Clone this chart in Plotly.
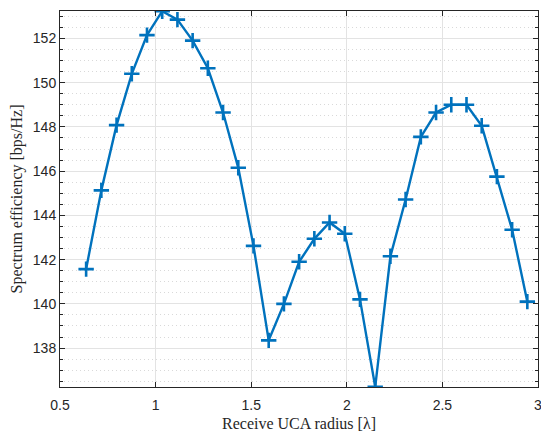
import plotly.graph_objects as go

radius = [0.6366, 0.7162, 0.7958, 0.8754, 0.9549, 1.0345, 1.1141, 1.1937, 1.2732, 1.3528,
          1.4324, 1.5120, 1.5915, 1.6711, 1.7507, 1.8303, 1.9099, 1.9894, 2.0690, 2.1486,
          2.2282, 2.3077, 2.3873, 2.4669, 2.5465, 2.6261, 2.7056, 2.7852, 2.8648, 2.9443]
efficiency = [141.57, 145.13, 148.08, 150.40, 152.15, 153.23, 152.85, 151.90, 150.65, 148.65,
              146.15, 142.62, 138.35, 140.00, 141.90, 142.94, 143.68, 143.17, 140.20, 136.25,
              142.15, 144.72, 147.55, 148.65, 149.00, 149.00, 148.05, 145.75, 143.35, 140.10]

x_ticks = [0.5, 1, 1.5, 2, 2.5, 3]
x_tick_labels = ["0.5", "1", "1.5", "2", "2.5", "3"]
y_ticks = [138, 140, 142, 144, 146, 148, 150, 152]

blue = "#0072BD"
fig = go.Figure(go.Scatter(
    x=radius, y=efficiency, mode="lines+markers",
    line=dict(color=blue, width=2.4),
    marker=dict(symbol="cross-thin", size=11, line=dict(color=blue, width=2.6)),
))

axis_common = dict(
    showline=True, linecolor="#262626", linewidth=1, mirror="ticks",
    ticks="inside", ticklen=5, tickcolor="#262626",
    showgrid=True, gridcolor="#e3e3e3", gridwidth=1,
    zeroline=False, ticklabeloverflow="allow", automargin=False,
    tickfont=dict(family="Liberation Sans, Arial", size=14, color="#262626"),
)

title_font = dict(family="Liberation Serif, Times New Roman", size=16, color="#262626")

fig.update_xaxes(
    **axis_common,
    range=[0.4999, 3.0001], tickvals=x_ticks, ticktext=x_tick_labels,
    ticklabelstandoff=5,
    title=dict(text="Receive UCA radius [λ]", font=title_font, standoff=6),
)
fig.update_yaxes(
    **axis_common,
    range=[min(efficiency) - 0.01, max(efficiency) + 0.01], tickvals=y_ticks,
    minor=dict(dtick=0.5, ticks="inside", ticklen=3, tickcolor="#262626",
               showgrid=True, gridcolor="#d9d9d9", griddash="1px,3px", gridwidth=1),
    title=dict(text="Spectrum efficiency [bps/Hz]", font=title_font, standoff=6),
)

fig.update_layout(
    width=541, height=432,
    margin=dict(l=60, r=3, t=11, b=45),
    paper_bgcolor="white", plot_bgcolor="white",
    showlegend=False,
)

fig.write_html("out.html")
